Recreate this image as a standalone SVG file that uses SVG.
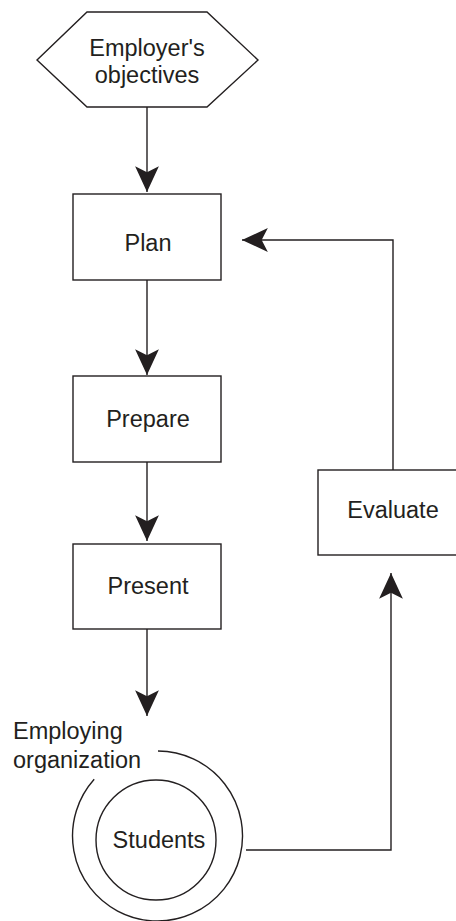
<svg xmlns="http://www.w3.org/2000/svg" width="456" height="921" viewBox="0 0 456 921">
<style>
.s{fill:#fff;stroke:#231f20;stroke-width:1.4}
.c{fill:none;stroke:#231f20;stroke-width:1.4}
.t{font-family:"Liberation Sans",Arial,sans-serif;font-size:23.5px;fill:#231f20}
.m{text-anchor:middle}
</style>
<defs>
<marker id="ah" markerUnits="userSpaceOnUse" markerWidth="30" markerHeight="30" viewBox="-27 -13 29 26" refX="0" refY="0" orient="auto">
<path d="M0,0 L-25,-11.5 L-19,0 L-25,11.5 Z" fill="#231f20"/>
</marker>
</defs>
<rect width="456" height="921" fill="#fff"/>
<g id="connectors">
<line class="c" x1="147" y1="107" x2="147" y2="192" marker-end="url(#ah)"/>
<line class="c" x1="147" y1="280" x2="147" y2="375" marker-end="url(#ah)"/>
<line class="c" x1="147" y1="462" x2="147" y2="541" marker-end="url(#ah)"/>
<line class="c" x1="147" y1="629" x2="147" y2="716" marker-end="url(#ah)"/>
<polyline class="c" points="246,850 391,850 391,573" marker-end="url(#ah)"/>
<polyline class="c" points="393,470 393,240 242,240" marker-end="url(#ah)"/>
</g>
<g id="objectives">
<polygon class="s" points="87,12 207,12 258,60 207,107 87,107 37,60"/>
<text class="t m" x="147" y="56">Employer's</text>
<text class="t m" x="147" y="83">objectives</text>
</g>
<g id="plan">
<rect class="s" x="73" y="194" width="148" height="86"/>
<text class="t m" x="148" y="251">Plan</text>
</g>
<g id="prepare">
<rect class="s" x="73" y="376" width="148" height="86"/>
<text class="t m" x="148" y="427">Prepare</text>
</g>
<g id="present">
<rect class="s" x="73" y="544" width="148" height="85"/>
<text class="t m" x="148" y="594">Present</text>
</g>
<g id="evaluate">
<rect class="s" x="318" y="470" width="150" height="85"/>
<text class="t m" x="393" y="518">Evaluate</text>
</g>
<g id="organization">
<path class="c" d="M158,751 A85,85 0 1 1 94.2,779.3"/>
<text class="t" x="13" y="739">Employing</text>
<text class="t" x="13" y="768">organization</text>
</g>
<g id="students">
<circle class="c" cx="156" cy="840" r="60"/>
<text class="t m" x="159" y="848">Students</text>
</g>
</svg>
